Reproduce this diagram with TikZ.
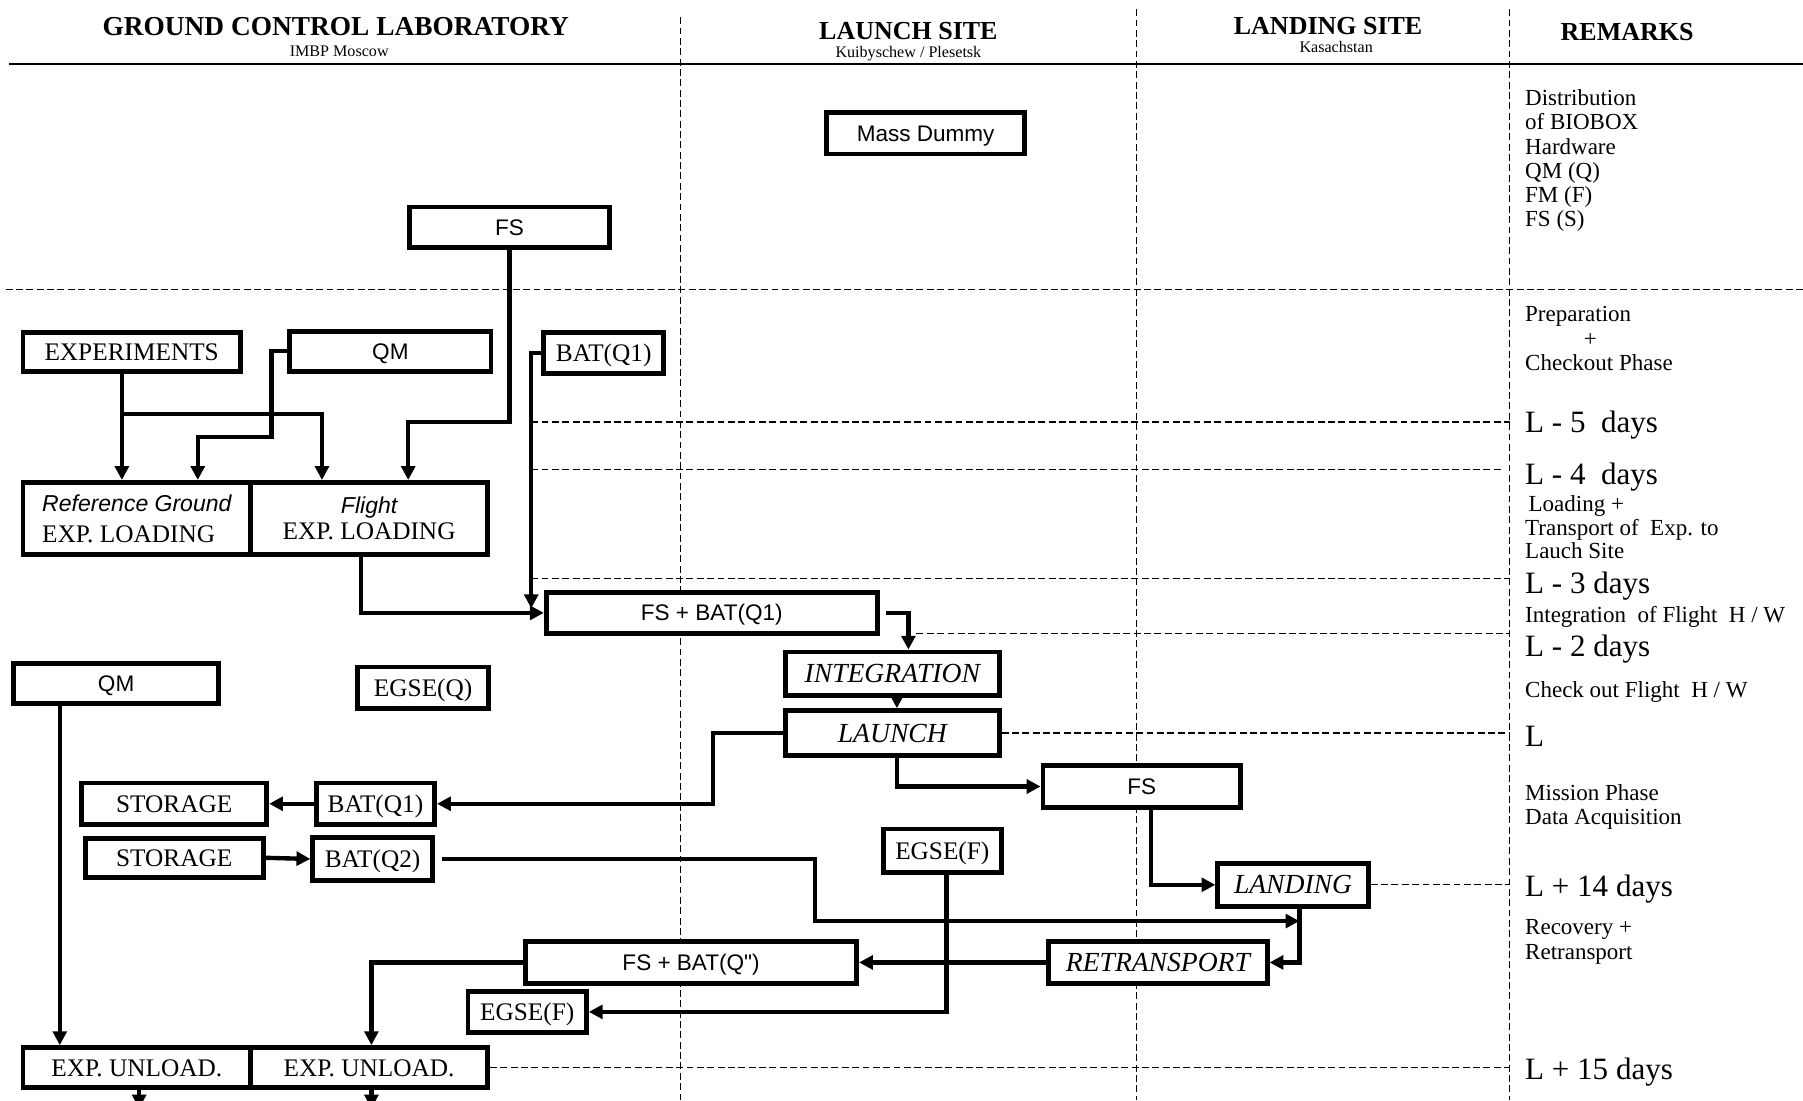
\documentclass[tikz,border=0pt]{standalone}
\usepackage{fontspec}
\setmainfont{Liberation Serif}
\setsansfont{Liberation Sans}
\newfontfamily\qsans{Liberation Sans}[Ligatures=TeXOff]
\usetikzlibrary{arrows.meta}
\tikzset{
 box/.style={draw, fill=white, line width=2.1pt, inner sep=0pt, align=center},
 sbox/.style={box, font=\sffamily\fontsize{9.8}{11}\selectfont, text height=7pt, text depth=0pt},
 rbox/.style={box, font=\fontsize{11}{13}\selectfont, text height=7.3pt, text depth=0pt},
 ibox/.style={box, font=\itshape\fontsize{12}{14}\selectfont, text height=7.9pt, text depth=0pt},
 conn/.style={line width=1.9pt, -{Triangle[length=6pt,width=6pt]}},
 dline/.style={line width=0.5pt, dash pattern=on 3pt off 1.5pt},
 hdr/.style={font=\bfseries\fontsize{11.3}{13}\selectfont, inner sep=0pt, anchor=base},
 subhdr/.style={font=\fontsize{7}{8}\selectfont, inner sep=0pt, anchor=base},
 rem/.style={font=\fontsize{10}{12}\selectfont, inner sep=0pt, anchor=base west},
 bigrem/.style={font=\fontsize{13.5}{15}\selectfont, inner sep=0pt, anchor=base west},
}
\begin{document}
\begin{tikzpicture}[x=0.5pt,y=-0.5pt]
\path[use as bounding box, clip] (0,0) rectangle (1568,957);
\fill[white] (0,0) rectangle (1568,957);

% ---------- header ----------
\node[hdr, font=\bfseries\fontsize{11.9}{13}\selectfont] (h1) at (292,31) {GROUND CONTROL LABORATORY};
\node[subhdr] (h1s) at (295,49) {IMBP Moscow};
\node[hdr] (h2) at (790,34) {LAUNCH SITE};
\node[subhdr] (h2s) at (790,50) {Kuibyschew / Plesetsk};
\node[hdr] (h3) at (1155,30) {LANDING SITE};
\node[subhdr] (h3s) at (1162,46) {Kasachstan};
\node[hdr] (h4) at (1415,35) {REMARKS};
\draw[line width=0.8pt] (8,56) -- (1568,56);

% ---------- grid ----------
\coordinate (vx1) at (592,0);
\coordinate (vx2) at (988,0);
\coordinate (vx3) at (1313,0);
\draw[dline] (592,15) -- (592,957);
\draw[dline] (988,8) -- (988,957);
\draw[dline] (1313,8) -- (1313,957);
\draw[dline] (5,252) -- (1568,252);
\draw[dline] (462,367) -- (1313,367);
\draw[dline] (462,408) -- (1305,408);
\draw[dline] (462,503) -- (1313,503);
\draw[dline] (797,551) -- (1313,551);

% ---------- boxes ----------
\node[sbox, minimum width=86pt, minimum height=18pt] (mass) at (805,116) {Mass Dummy};
\node[sbox, minimum width=87pt, minimum height=17.5pt] (fstop) at (443,197.5) {FS};
\node[rbox, minimum width=94.5pt, minimum height=17pt] (exp) at (114.5,306) {EXPERIMENTS};
\node[sbox, minimum width=87.5pt, minimum height=17.5pt] (qmtop) at (339.5,305.5) {QM};
\node[rbox, minimum width=52pt, minimum height=18pt] (battop) at (525,307) {BAT(Q1)};
\node[box, minimum width=99pt, minimum height=31.5pt, align=left] (refload) at (119,451)
  {{\sffamily\itshape\fontsize{10}{12}\selectfont Reference Ground}\\[1.5pt]{\fontsize{11}{13}\selectfont EXP. LOADING}};
\node[box, minimum width=103pt, minimum height=31.5pt] (fltload) at (321,451)
  {{\sffamily\itshape\fontsize{10}{12}\selectfont Flight}\\[-0.5pt]{\fontsize{11}{13}\selectfont EXP. LOADING}};
\node[sbox, minimum width=144pt, minimum height=18pt] (fsbat) at (619,533) {FS + BAT(Q1)};
\node[sbox, minimum width=89pt, minimum height=17.5pt] (qmmid) at (101,594.5) {QM};
\node[rbox, minimum width=57pt, minimum height=18pt] (egseq) at (368,598) {EGSE(Q)};
\node[ibox, minimum width=93pt, minimum height=19pt] (integ) at (776,586) {INTEGRATION};
\node[ibox, minimum width=93pt, minimum height=19.5pt] (launch) at (776,637.5) {LAUNCH};
\node[sbox, minimum width=86pt, minimum height=18pt] (fsmid) at (993,684) {FS};
\node[rbox, minimum width=80.5pt, minimum height=18pt] (stor1) at (151.5,699) {STORAGE};
\node[rbox, minimum width=51.5pt, minimum height=18pt] (batlow) at (326.5,699) {BAT(Q1)};
\node[rbox, minimum width=77.5pt, minimum height=17pt] (stor2) at (151.5,746) {STORAGE};
\node[rbox, minimum width=52pt, minimum height=18.5pt] (batq2) at (324,747) {BAT(Q2)};
\node[rbox, minimum width=51.5pt, minimum height=19pt] (egsefu) at (819.5,740) {EGSE(F)};
\node[ibox, minimum width=65.5pt, minimum height=18.5pt] (landing) at (1124.5,769.5) {LANDING};
\node[sbox, minimum width=144pt, minimum height=18pt] (fsbatq) at (601,837) {FS + BAT(Q{\qsans "})};
\node[ibox, minimum width=95pt, minimum height=18.5pt] (retr) at (1007,837) {RETRANSPORT};
\node[rbox, minimum width=51.5pt, minimum height=18pt] (egsefl) at (458.5,880) {EGSE(F)};
\node[rbox, minimum width=99pt, minimum height=17.5pt] (unl1) at (119,928.5) {EXP. UNLOAD.};
\node[rbox, minimum width=103pt, minimum height=17.5pt] (unl2) at (321,928.5) {EXP. UNLOAD.};

% dashed lines from boxes to remarks column
\draw[dline] (launch.east) -- (launch.east -| vx3);
\draw[dline] (landing.east) -- (landing.east -| vx3);
\draw[dline] (unl2.east) -- (unl2.east -| vx3);

% ---------- connectors ----------
\coordinate (a1) at (355,367);
\draw[conn] (fstop.south) |- (a1) -- (a1 |- fltload.north);

\coordinate (b1) at (106,360);
\coordinate (b2) at (280,360);
\draw[conn] (b1 |- exp.south) -- (b1 |- refload.north);
\draw[conn] (b1) -- (b2) -- (b2 |- fltload.north);

\coordinate (c1) at (236,380);
\coordinate (c2) at (172,380);
\draw[conn] (qmtop.west) -| (c1) -- (c2) -- (c2 |- refload.north);

\coordinate (d1) at (462,529);
\draw[conn] (battop.west) -| (d1);

\coordinate (e1) at (314,533);
\draw[conn] (e1 |- fltload.south) |- (fsbat.west);

\coordinate (f1) at (790,533);
\draw[conn] ([xshift=2.5pt]fsbat.east) -- (f1) -- (f1 |- integ.north);

\draw[conn] ([xshift=2pt]integ.south) -- ([xshift=2pt]launch.north);

\coordinate (h1c) at (620,699);
\draw[conn] (launch.west) -| (h1c) -- (batlow.east);

\coordinate (i1) at (780,0);
\draw[conn] (i1 |- launch.south) |- (fsmid.west);

\coordinate (j1) at (1001,0);
\draw[conn] (j1 |- fsmid.south) |- (landing.west);

\draw[conn] (batlow.west) -- (stor1.east);
\draw[conn] (stor2.east) -- (batq2.west);

\coordinate (m1) at (709,801);
\coordinate (m2) at (1130,801);
\draw[conn] ([xshift=3pt]batq2.east) -| (m1) -- (m2);

\coordinate (n1) at (1130,0);
\draw[conn] (n1 |- landing.south) |- (retr.east);

\draw[conn] (retr.west) -- (fsbatq.east);

\coordinate (p1) at (823,0);
\draw[conn] (p1 |- egsefu.south) |- (egsefl.east);

\coordinate (q1) at (323,0);
\draw[conn] (fsbatq.west) -| (q1 |- unl2.north);

\coordinate (r1) at (52,0);
\draw[conn] (r1 |- qmmid.south) -- (r1 |- unl1.north);

\coordinate (s1) at (121,964);
\coordinate (s2) at (323,964);
\draw[conn] (s1 |- unl1.south) -- (s1);
\draw[conn] (s2 |- unl2.south) -- (s2);

% ---------- remarks ----------
\node[rem] (t1) at (1326,92) {Distribution};
\node[rem] (t2) at (1326,113) {of BIOBOX};
\node[rem] (t3) at (1326,134) {Hardware};
\node[rem] (t4) at (1326,155) {QM (Q)};
\node[rem] (t5) at (1326,176) {FM (F)};
\node[rem] (t6) at (1326,197) {FS (S)};
\node[rem] (t7) at (1326,280) {Preparation};
\node[rem] (t8) at (1377,301) {+};
\node[rem] (t9) at (1326,322) {Checkout Phase};
\node[bigrem] (t10) at (1326,376) {L - 5\ \ days};
\node[bigrem] (t11) at (1326,421) {L - 4\ \ days};
\node[rem] (t12) at (1329,445) {Loading +};
\node[rem] (t13) at (1326,466) {Transport of\ \ Exp. to};
\node[rem] (t14) at (1326,486) {Lauch Site};
\node[bigrem] (t15) at (1326,516) {L - 3 days};
\node[rem] (t16) at (1326,541) {Integration\ \ of Flight\ \ H / W};
\node[bigrem] (t17) at (1326,571) {L - 2 days};
\node[rem] (t18) at (1326,607) {Check out Flight\ \ H / W};
\node[bigrem] (t19) at (1326,649) {L};
\node[rem] (t20) at (1326,696) {Mission Phase};
\node[rem] (t21) at (1326,717) {Data Acquisition};
\node[bigrem] (t22) at (1326,780) {L + 14 days};
\node[rem] (t23) at (1326,813) {Recovery +};
\node[rem] (t24) at (1326,834) {Retransport};
\node[bigrem] (t25) at (1326,939) {L + 15 days};
\end{tikzpicture}
\end{document}
